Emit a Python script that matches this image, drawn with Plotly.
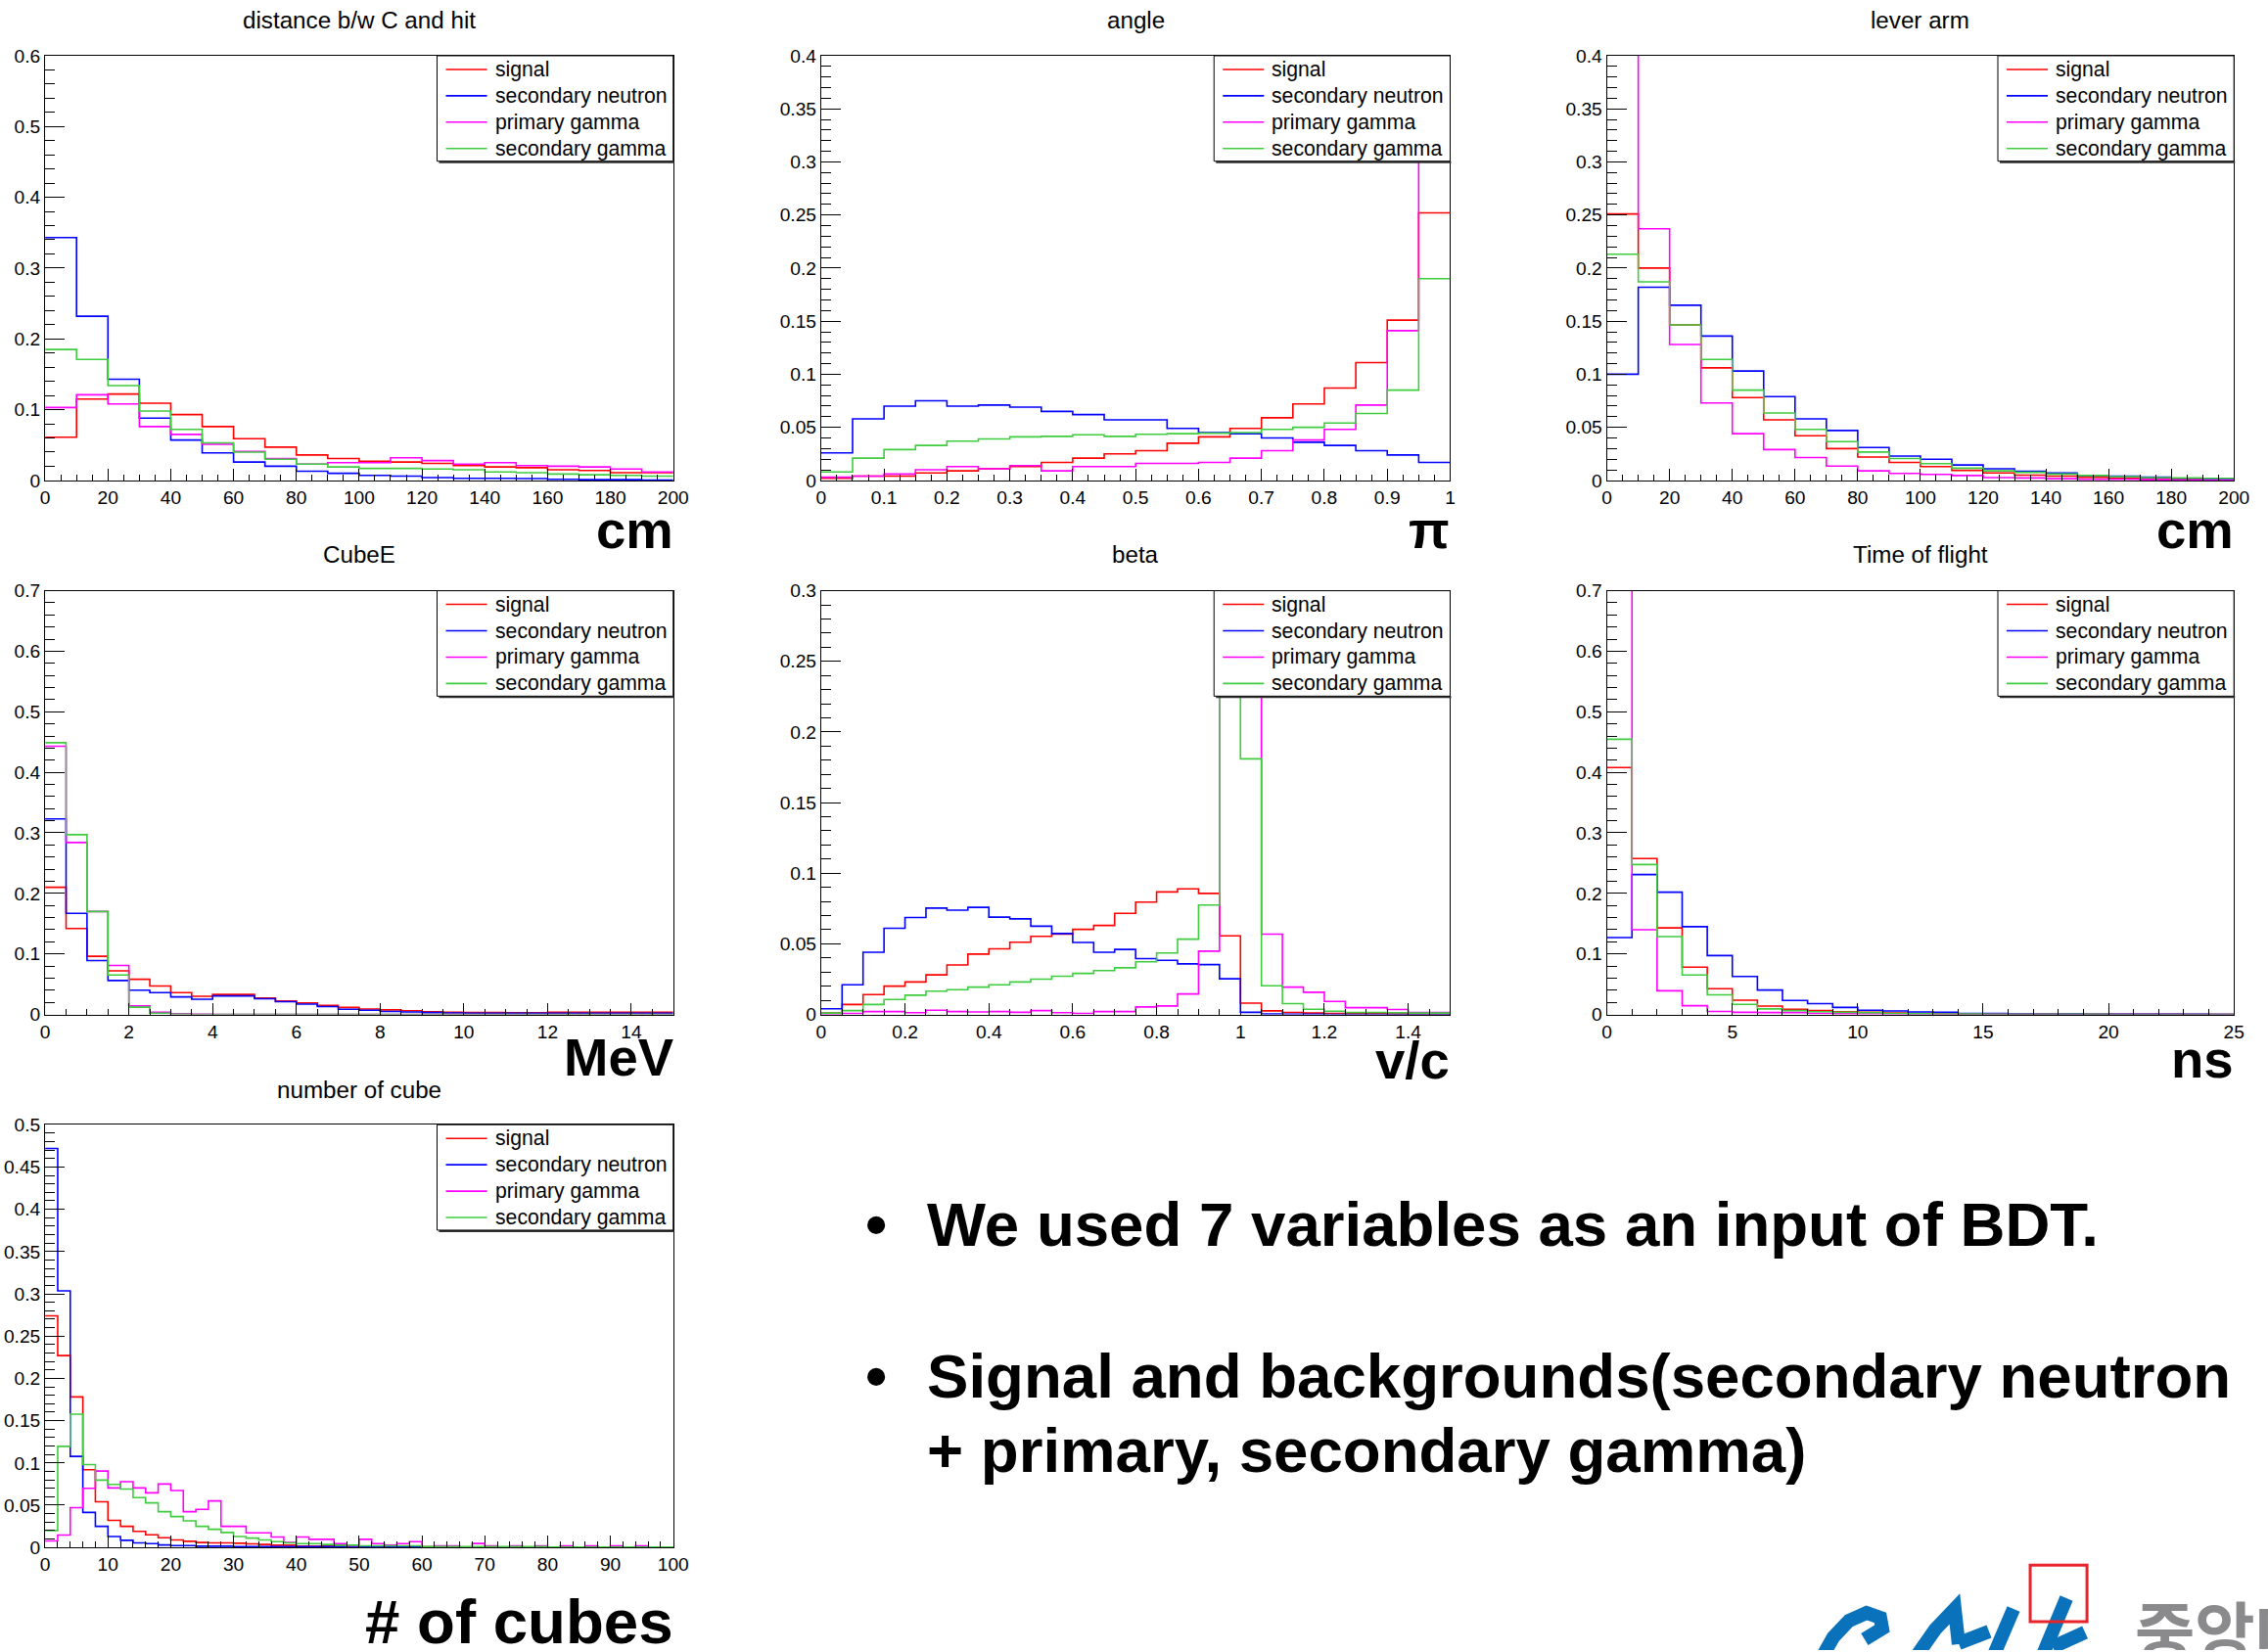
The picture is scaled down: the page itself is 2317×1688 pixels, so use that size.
import numpy as np
import plotly.graph_objects as go

# target picture is 2317x1688.  The page body keeps an 8px margin and the
# capture comes out ~1% smaller than css pixels, so positions are given in
# picture pixels and converted to figure fractions below.
W, H = 2317, 1688
OFF = 8
S = 0.99
FW, FH = 2317, 1686
FONT = "Liberation Sans, Arial, Helvetica, sans-serif"

series_names = ["signal", "secondary neutron", "primary gamma", "secondary gamma"]
series_colors = ["#ff0000", "#0000ff", "#ff00ff", "#3fcc3f"]

# ---------------- data (normalised histograms) ----------------
# distance b/w C and hit : 0-200 cm, 20 bins
dist_signal = [0.061, 0.115, 0.122, 0.109, 0.093, 0.076, 0.059, 0.047, 0.036, 0.031,
               0.027, 0.026, 0.024, 0.021, 0.019, 0.018, 0.015, 0.014, 0.011, 0.011]
dist_neutron = [0.343, 0.232, 0.143, 0.088, 0.057, 0.039, 0.026, 0.020, 0.013, 0.010,
                0.007, 0.006, 0.004, 0.003, 0.003, 0.0025, 0.0015, 0.001, 0.001, 0.0005]
dist_pgamma = [0.103, 0.121, 0.108, 0.076, 0.065, 0.051, 0.041, 0.031, 0.023, 0.025,
               0.025, 0.032, 0.028, 0.023, 0.025, 0.021, 0.020, 0.019, 0.016, 0.012]
dist_sgamma = [0.185, 0.171, 0.134, 0.098, 0.072, 0.053, 0.040, 0.030, 0.023, 0.019,
               0.017, 0.017, 0.016, 0.015, 0.012, 0.011, 0.009, 0.008, 0.007, 0.006]

# angle : 0-1 pi, 20 bins
angle_signal = [0.002, 0.004, 0.004, 0.007, 0.009, 0.011, 0.013, 0.017, 0.021, 0.025,
                0.028, 0.035, 0.041, 0.049, 0.059, 0.072, 0.087, 0.111, 0.151, 0.252]
angle_neutron = [0.026, 0.058, 0.070, 0.075, 0.070, 0.071, 0.069, 0.065, 0.062, 0.057,
                 0.057, 0.049, 0.045, 0.044, 0.040, 0.036, 0.033, 0.028, 0.024, 0.017]
angle_pgamma = [0.003, 0.004, 0.006, 0.010, 0.013, 0.011, 0.014, 0.009, 0.013, 0.013,
                0.016, 0.016, 0.017, 0.021, 0.028, 0.038, 0.048, 0.071, 0.141, 0.36]
angle_sgamma = [0.008, 0.021, 0.029, 0.033, 0.037, 0.039, 0.041, 0.0415, 0.043, 0.0415,
                0.0435, 0.044, 0.0445, 0.045, 0.048, 0.050, 0.054, 0.063, 0.085, 0.190]

# lever arm : 0-200 cm, 20 bins
lever_signal = [0.251, 0.200, 0.1465, 0.106, 0.078, 0.057, 0.042, 0.030, 0.022, 0.017,
                0.013, 0.0095, 0.007, 0.005, 0.004, 0.003, 0.002, 0.0015, 0.001, 0.0007]
lever_neutron = [0.100, 0.182, 0.165, 0.136, 0.103, 0.079, 0.058, 0.047, 0.031, 0.023,
                 0.020, 0.0145, 0.011, 0.0085, 0.007, 0.0046, 0.004, 0.003, 0.002, 0.0013]
lever_pgamma = [0.46, 0.237, 0.128, 0.073, 0.044, 0.029, 0.0215, 0.0135, 0.009, 0.0066,
                0.0056, 0.0046, 0.0026, 0.0023, 0.0016, 0.001, 0.001, 0.0007, 0.0003, 0.0003]
lever_sgamma = [0.213, 0.187, 0.1465, 0.114, 0.085, 0.0635, 0.048, 0.0365, 0.0267, 0.0207,
                0.0158, 0.0115, 0.009, 0.0076, 0.006, 0.0046, 0.0036, 0.0026, 0.0023, 0.002]

# CubeE : 0-15 MeV, 30 bins
cube_signal = [0.210, 0.142, 0.096, 0.072, 0.058, 0.047, 0.036, 0.030, 0.033, 0.033,
               0.027, 0.022, 0.019, 0.015, 0.0115, 0.009, 0.0075, 0.006, 0.0046, 0.0035,
               0.003, 0.003, 0.0028, 0.0028, 0.0035, 0.0035, 0.0035, 0.0035, 0.0035, 0.0035]
cube_neutron = [0.323, 0.167, 0.089, 0.056, 0.040, 0.036, 0.029, 0.025, 0.0305, 0.0305,
                0.026, 0.021, 0.017, 0.013, 0.0086, 0.007, 0.005, 0.004, 0.003, 0.0025,
                0.002, 0.002, 0.002, 0.002, 0.002, 0.002, 0.002, 0.002, 0.002, 0.002]
cube_pgamma = [0.443, 0.284, 0.170, 0.081, 0.014, 0.0035, 0.001, 0.0005, 0.0, 0.0,
               0.0, 0.0, 0.0, 0.0, 0.0, 0.0, 0.0, 0.0, 0.0, 0.0,
               0.0, 0.0, 0.0, 0.0, 0.0, 0.0, 0.0, 0.0, 0.0, 0.0]
cube_sgamma = [0.449, 0.297, 0.170, 0.065, 0.012, 0.002, 0.0005, 0.0, 0.0, 0.0,
               0.0, 0.0, 0.0, 0.0, 0.0, 0.0, 0.0, 0.0, 0.0, 0.0,
               0.0, 0.0, 0.0, 0.0, 0.0, 0.0, 0.0, 0.0, 0.0, 0.0]

# beta : 0-1.5 v/c, 30 bins
beta_signal = [0.001, 0.007, 0.014, 0.020, 0.023, 0.028, 0.035, 0.0427, 0.0464, 0.0511,
               0.0553, 0.0568, 0.0602, 0.063, 0.0716, 0.0795, 0.0867, 0.0889, 0.0857, 0.0556,
               0.008, 0.0025, 0.0014, 0.001, 0.0007, 0.0005, 0.0005, 0.0003, 0.0003, 0.0003]
beta_neutron = [0.004, 0.021, 0.044, 0.061, 0.0686, 0.0753, 0.0738, 0.0758, 0.0689, 0.0677,
                0.0625, 0.0573, 0.0509, 0.044, 0.046, 0.0395, 0.0383, 0.0358, 0.0353, 0.0252,
                0.0015, 0.0003, 0.0002, 0.0001, 0.0, 0.0, 0.0, 0.0, 0.0, 0.0]
beta_pgamma = [0.0003, 0.0007, 0.002, 0.002, 0.0012, 0.003, 0.002, 0.0017, 0.002, 0.0015,
               0.0027, 0.0012, 0.0007, 0.002, 0.002, 0.0053, 0.006, 0.0145, 0.0448, 0.32,
               0.30, 0.0568, 0.0193, 0.0157, 0.0092, 0.0048, 0.0048, 0.0035, 0.0014, 0.0014]
beta_sgamma = [0.001, 0.0027, 0.007, 0.0106, 0.0136, 0.0165, 0.0175, 0.0193, 0.021, 0.023,
               0.025, 0.027, 0.029, 0.031, 0.033, 0.0373, 0.0435, 0.0533, 0.0775, 0.42,
               0.181, 0.0203, 0.0076, 0.0037, 0.0023, 0.0014, 0.0014, 0.0012, 0.001, 0.001]

# Time of flight : 0-25 ns, 25 bins
tof_signal = [0.408, 0.2575, 0.143, 0.078, 0.0426, 0.0236, 0.0138, 0.0086, 0.0063, 0.0046,
              0.0035, 0.0023, 0.0017, 0.0012, 0.001, 0.0008, 0.0006, 0.0005, 0.0004, 0.0003,
              0.0003, 0.0002, 0.0002, 0.0001, 0.0001]
tof_neutron = [0.127, 0.231, 0.202, 0.145, 0.0973, 0.0628, 0.0403, 0.023, 0.0179, 0.0115,
               0.0069, 0.0058, 0.004, 0.0035, 0.0017, 0.0017, 0.001, 0.0008, 0.0006, 0.0005,
               0.0004, 0.0003, 0.0002, 0.0002, 0.0001]
tof_pgamma = [0.78, 0.14, 0.039, 0.0144, 0.005, 0.0035, 0.003, 0.003, 0.0017, 0.001,
              0.0008, 0.0006, 0.0005, 0.0004, 0.0003, 0.0003, 0.0002, 0.0002, 0.0001, 0.0001,
              0.0, 0.0, 0.0, 0.0, 0.0]
tof_sgamma = [0.4546, 0.2477, 0.1285, 0.065, 0.0323, 0.0167, 0.0092, 0.0063, 0.0046, 0.0035,
              0.003, 0.0017, 0.001, 0.0008, 0.0006, 0.0005, 0.0004, 0.0003, 0.0002, 0.0002,
              0.0001, 0.0001, 0.0001, 0.0, 0.0]

# number of cube : 0-100, 50 bins
ncube_signal = [0.274, 0.227, 0.178, 0.092, 0.054, 0.032, 0.025, 0.019, 0.015, 0.0115,
                0.0088, 0.0073, 0.0058, 0.0054, 0.0054, 0.005, 0.0042, 0.0035, 0.0027, 0.0027,
                0.0017, 0.0017, 0.0017, 0.0015, 0.0015, 0.001, 0.001, 0.001, 0.001, 0.001,
                0.0008, 0.0007, 0.0006, 0.0005, 0.0005, 0.0004, 0.0004, 0.0003, 0.0003, 0.0003,
                0.0002, 0.0002, 0.0002, 0.0002, 0.0001, 0.0001, 0.0001, 0.0001, 0.0001, 0.0001]
ncube_neutron = [0.472, 0.3035, 0.1077, 0.0415, 0.025, 0.013, 0.0085, 0.0054, 0.0046, 0.003,
                 0.0023, 0.0023, 0.0015, 0.0015, 0.0015, 0.001, 0.001, 0.001, 0.001, 0.001,
                 0.001, 0.001, 0.001, 0.001, 0.001, 0.001, 0.001, 0.001, 0.001, 0.001,
                 0.0005, 0.0005, 0.0005, 0.0005, 0.0005, 0.0003, 0.0003, 0.0003, 0.0003, 0.0003,
                 0.0002, 0.0002, 0.0002, 0.0001, 0.0001, 0.0001, 0.0, 0.0, 0.0, 0.0]
ncube_pgamma = [0.0077, 0.0146, 0.047, 0.070, 0.0904, 0.0704, 0.0777, 0.0704, 0.0646, 0.075,
                0.0673, 0.0423, 0.045, 0.055, 0.025, 0.025, 0.0173, 0.0173, 0.0123, 0.0058,
                0.0123, 0.0096, 0.0096, 0.0046, 0.0019, 0.0096, 0.0046, 0.0027, 0.0046, 0.0069,
                0.0008, 0.002, 0.002, 0.0, 0.0047, 0.002, 0.0, 0.002, 0.0, 0.002,
                0.0, 0.002, 0.0, 0.002, 0.0, 0.002, 0.0, 0.002, 0.0, 0.0]
ncube_sgamma = [0.020, 0.1196, 0.1577, 0.098, 0.0796, 0.0746, 0.069, 0.059, 0.0527, 0.0423,
                0.0365, 0.0315, 0.025, 0.0215, 0.0177, 0.013, 0.011, 0.0088, 0.0069, 0.0054,
                0.0046, 0.0046, 0.0035, 0.0027, 0.0027, 0.0019, 0.0019, 0.0019, 0.0019, 0.0019,
                0.001, 0.001, 0.001, 0.001, 0.001, 0.001, 0.001, 0.001, 0.001, 0.001,
                0.0005, 0.0005, 0.0005, 0.0005, 0.0005, 0.0005, 0.0005, 0.0005, 0.0005, 0.0005]

panel_titles = ["distance b/w C and hit", "angle", "lever arm", "CubeE", "beta",
                "Time of flight", "number of cube"]
panel_units = ["cm", "π", "cm", "MeV", "v/c", "ns", "# of cubes"]
panel_xranges = [(0, 200), (0, 1), (0, 200), (0, 15), (0, 1.5), (0, 25), (0, 100)]
panel_yranges = [(0, 0.6), (0, 0.4), (0, 0.4), (0, 0.7), (0, 0.3), (0, 0.7), (0, 0.5)]
panel_data = [
    [dist_signal, dist_neutron, dist_pgamma, dist_sgamma],
    [angle_signal, angle_neutron, angle_pgamma, angle_sgamma],
    [lever_signal, lever_neutron, lever_pgamma, lever_sgamma],
    [cube_signal, cube_neutron, cube_pgamma, cube_sgamma],
    [beta_signal, beta_neutron, beta_pgamma, beta_sgamma],
    [tof_signal, tof_neutron, tof_pgamma, tof_sgamma],
    [ncube_signal, ncube_neutron, ncube_pgamma, ncube_sgamma],
]

# ---------------- layout spec (picture pixels) ----------------
xticks = [(20, 5), (0.1, 0.025), (20, 5), (2, 0.5), (0.2, 0.05), (5, 1), (10, 2)]
yticks = [(0.1, 0.02), (0.05, 0.01), (0.05, 0.01), (0.1, 0.02), (0.05, 0.01), (0.1, 0.02), (0.05, 0.01)]
cols = [(49, 690), (841, 1483), (1643, 2283)]
rows = [(55, 490), (603, 1037), (1150, 1583)]
panel_boxes = [(cols[0], rows[0]), (cols[1], rows[0]), (cols[2], rows[0]),
               (cols[0], rows[1]), (cols[1], rows[1]), (cols[2], rows[1]),
               (cols[0], rows[2])]
title_y = [18, 18, 18, 566, 566, 566, 1114]
unit_y = [541, 541, 541, 1081, 1084, 1083, 1659]
unit_size = [54, 54, 54, 54, 54, 54, 63]
LEG_W, LEG_H = 241, 108
leg_rows = [14, 41, 68, 95]


def fx(p):
    return (p / S - OFF) / FW


def fy(p):
    return 1 - (p / S - OFF) / FH


def fs(size):
    return round(size / S, 1)


fig = go.Figure()
layout = dict(
    width=FW, height=FH, margin=dict(l=0, r=0, t=0, b=0),
    paper_bgcolor="white", plot_bgcolor="white",
    font=dict(family=FONT, color="black"), showlegend=False,
)
annotations = []
shapes = []

for i in range(7):
    (l, r), (t, b) = panel_boxes[i]
    xa = "xaxis" if i == 0 else f"xaxis{i+1}"
    ya = "yaxis" if i == 0 else f"yaxis{i+1}"
    xr = "x" if i == 0 else f"x{i+1}"
    yr = "y" if i == 0 else f"y{i+1}"
    x0, x1 = panel_xranges[i]
    for k in range(4):
        vals = list(panel_data[i][k])
        edges = np.linspace(x0, x1, len(vals) + 1)
        fig.add_trace(go.Scatter(
            x=edges, y=vals + [vals[-1]], mode="lines",
            line=dict(shape="hv", color=series_colors[k], width=1.6),
            name=series_names[k], xaxis=xr, yaxis=yr, hoverinfo="skip"))
    layout[xa] = dict(
        domain=[fx(l), fx(r)], anchor=yr, range=list(panel_xranges[i]),
        showgrid=False, zeroline=False, showline=True, linecolor="black",
        linewidth=1, mirror=True, ticks="inside", ticklen=12, tickwidth=1,
        tickcolor="black", dtick=xticks[i][0], tick0=0,
        tickfont=dict(size=fs(19), family=FONT, color="black"),
        minor=dict(dtick=xticks[i][1], tick0=0, ticks="inside", ticklen=6,
                   tickcolor="black", tickwidth=1, showgrid=False))
    layout[ya] = dict(
        domain=[fy(b), fy(t)], anchor=xr, range=list(panel_yranges[i]),
        showgrid=False, zeroline=False, showline=True, linecolor="black",
        linewidth=1, mirror=True, ticks="inside", ticklen=20, tickwidth=1,
        tickcolor="black", dtick=yticks[i][0], tick0=0,
        tickfont=dict(size=fs(19), family=FONT, color="black"),
        minor=dict(dtick=yticks[i][1], tick0=0, ticks="inside", ticklen=10,
                   tickcolor="black", tickwidth=1, showgrid=False))

    # ROOT-style legend box (top right of the frame)
    bl, br, bt, bb = r - LEG_W, r, t, t + LEG_H
    shapes.append(dict(type="line", xref="paper", yref="paper", layer="above",
                       x0=fx(bl + 2), x1=fx(br + 1), y0=fy(bb + 1), y1=fy(bb + 1),
                       line=dict(color="#333333", width=2)))
    shapes.append(dict(type="rect", xref="paper", yref="paper", layer="above",
                       x0=fx(bl), x1=fx(br), y0=fy(bb), y1=fy(bt),
                       fillcolor="white", line=dict(color="black", width=1)))
    for k in range(4):
        yy = bt + leg_rows[k]
        shapes.append(dict(type="line", xref="paper", yref="paper", layer="above",
                           x0=fx(bl + 9), x1=fx(bl + 51), y0=fy(yy), y1=fy(yy),
                           line=dict(color=series_colors[k], width=1.6)))
        annotations.append(dict(
            text=series_names[k], x=fx(bl + 57), y=fy(yy), xref="paper", yref="paper",
            xanchor="left", yanchor="middle", showarrow=False,
            font=dict(size=fs(21), family=FONT, color="black")))

    annotations.append(dict(
        text=panel_titles[i], x=fx((l + r) / 2), y=fy(title_y[i]),
        xref="paper", yref="paper", xanchor="center", yanchor="middle",
        showarrow=False, font=dict(size=fs(24), family=FONT, color="black")))
    annotations.append(dict(
        text=panel_units[i], x=fx(r + 2), y=fy(unit_y[i]),
        xref="paper", yref="paper", xanchor="right", yanchor="middle",
        showarrow=False,
        font=dict(size=fs(unit_size[i]), family=FONT, color="black", weight="bold")))

# ---------------- bullet text ----------------
bullet_lines = [
    ("•", "We used 7 variables as an input of BDT.", 1252),
    ("•", "Signal and backgrounds(secondary neutron", 1407),
    ("", "+ primary, secondary gamma)", 1483),
]
for dot, txt, yc in bullet_lines:
    if dot:
        annotations.append(dict(
            text=dot, x=fx(884), y=fy(yc), xref="paper", yref="paper",
            xanchor="left", yanchor="middle", showarrow=False,
            font=dict(size=fs(63), family=FONT, color="black", weight="bold")))
    annotations.append(dict(
        text=txt, x=fx(947), y=fy(yc), xref="paper", yref="paper",
        xanchor="left", yanchor="middle", showarrow=False,
        font=dict(size=fs(63), family=FONT, color="black", weight="bold")))

# ---------------- logo (partial, bottom right) ----------------
def ppath(points):
    return "M " + " L ".join(f"{fx(a):.5f},{fy(b):.5f}" for a, b in points)

logo_strokes = [
    [(1860, 1700), (1874, 1675), (1890, 1658), (1908, 1650), (1922, 1655), (1924, 1666), (1906, 1677)],
    [(1955, 1700), (1978, 1667), (1998, 1646), (2002, 1682)],
    [(2002, 1681), (2033, 1669)],
    [(2035, 1700), (2058, 1646)],
    [(2085, 1700), (2112, 1635)],
    [(2098, 1685), (2131, 1670)],
]
for pts in logo_strokes:
    shapes.append(dict(type="path", xref="paper", yref="paper", path=ppath(pts),
                       line=dict(color="#0a72ba", width=14)))
shapes.append(dict(type="rect", xref="paper", yref="paper",
                   x0=fx(2075), x1=fx(2133), y0=fy(1659), y1=fy(1601),
                   line=dict(color="#e8232a", width=3)))
annotations.append(dict(
    text="중앙대학교", x=fx(2180), y=fy(1666), xref="paper", yref="paper",
    xanchor="left", yanchor="middle", showarrow=False,
    font=dict(size=fs(66), family="Noto Sans CJK KR", color="#8a8a8c", weight="bold")))

layout["annotations"] = annotations
layout["shapes"] = shapes
fig.update_layout(**layout)
fig.write_html("out.html")
